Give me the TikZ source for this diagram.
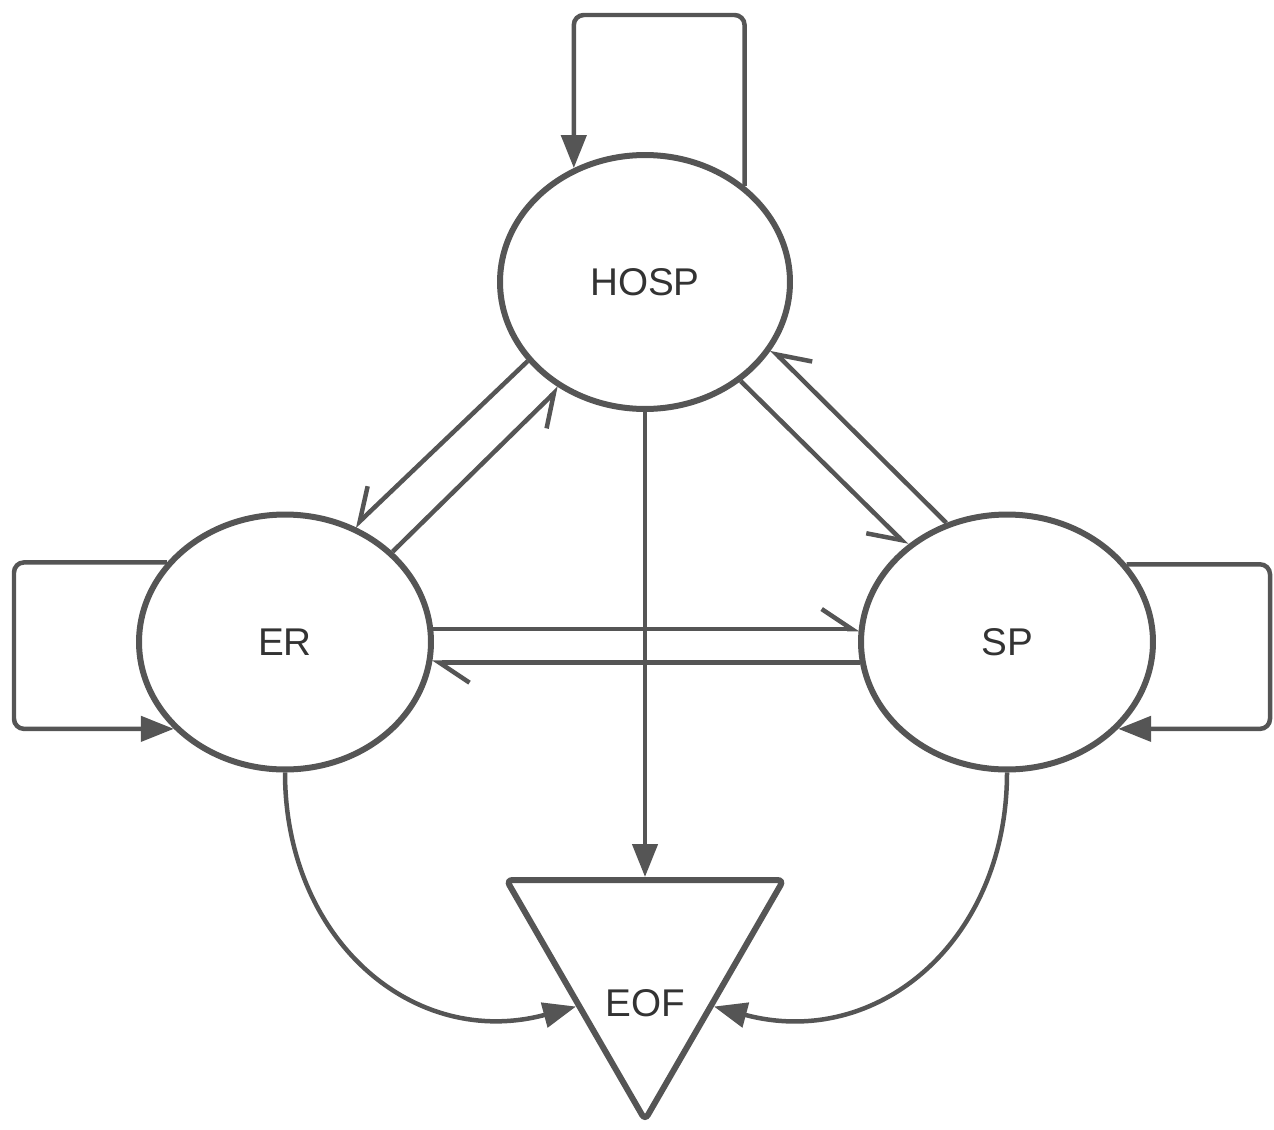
\documentclass[tikz,border=0pt]{standalone}
\usepackage{fontspec}
\setmainfont{Liberation Sans}
\usetikzlibrary{shapes.geometric,arrows.meta}
\definecolor{lc}{HTML}{555555}
\definecolor{tc}{HTML}{333333}
\tikzset{
  state/.style={ellipse, draw=lc, line width=0.12cm, minimum width=5.84cm,
    minimum height=5.1cm, inner sep=0pt, text=tc, font=\fontsize{22}{26}\selectfont},
  sink/.style={regular polygon, regular polygon sides=3, shape border rotate=180,
    draw=lc, line width=0.12cm, minimum size=6.4cm, inner sep=0pt, rounded corners=0.12cm},
  conn/.style={draw=lc, line width=0.09cm},
  solidtip/.style={-{Triangle[length=0.66cm, width=0.5cm]}},
  harpL/.style={-{Straight Barb[harpoon, length=0.6cm, width=0.8cm]}},
  harpR/.style={-{Straight Barb[harpoon, swap, length=0.6cm, width=0.8cm]}},
  loopline/.style={conn, solidtip, rounded corners=0.2cm},
}
\begin{document}
\begin{tikzpicture}[x=0.02cm, y=0.02cm]
  \useasboundingbox (0,0) rectangle (1274,-1129);

  % states
  \node[state, minimum width=5.8cm, minimum height=5.08cm] (hosp) at (645,-282) {HOSP};
  \node[state] (er) at (285,-642) {ER};
  \node[state] (sp) at (1007,-642) {SP};
  \node[sink, label={[text=tc, font=\fontsize{22}{26}\selectfont, yshift=-0.86cm]center:EOF}] (eof) at (645,-960) {};

  % corner points of the self loops
  \coordinate (hloop) at (650,-15);
  \coordinate (erloop) at (14,-645);
  \coordinate (sploop) at (1270,-645);

  % self loops
  \draw[loopline] (hosp.44) |- (hloop) -| (hosp.122.6);
  \draw[loopline] (er.146.6) -| (erloop) |- (er.218);
  \draw[loopline] (sp.33.4) -| (sploop) |- (sp.-38);

  % transitions between the states
  \draw[conn, harpR] (hosp.214) -- (er.59.8);
  \draw[conn, harpR] (er.40) -- (hosp.231);
  \draw[conn, harpR] (hosp.314) -- (sp.136);
  \draw[conn, harpR] (sp.117) -- (hosp.332);
  \draw[conn, harpL] (er.5.5) -- (sp.174.5 |- er.5.5);
  \draw[conn, harpL] (sp.188) -- (er.352 |- sp.188);

  % transitions into the end state
  \draw[conn, solidtip] (hosp.270) -- (eof.90);
  \draw[conn, solidtip] (er.270) to[out=-90, in=195, looseness=1.15] (eof.214);
  \draw[conn, solidtip] (sp.270) to[out=-90, in=-15, looseness=1.15] (eof.326);
\end{tikzpicture}
\end{document}
